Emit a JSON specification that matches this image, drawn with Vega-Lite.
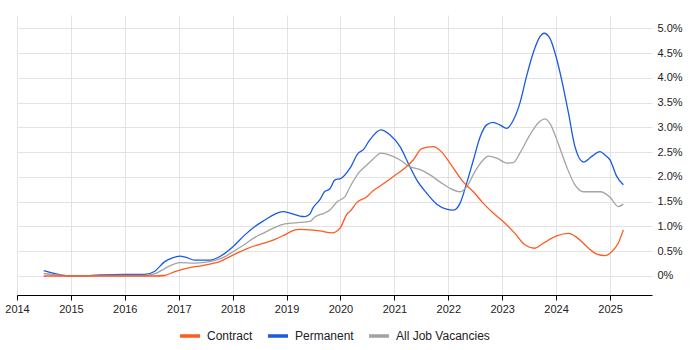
{
  "$schema": "https://vega.github.io/schema/vega-lite/v6.json",
  "width": 635,
  "height": 280,
  "autosize": {"type": "none"},
  "padding": {"left": 17, "top": 15, "right": 48, "bottom": 55},
  "background": "white",
  "config": {
    "view": {"stroke": null},
    "font": "Liberation Sans",
    "axis": {"labelFont": "Liberation Sans", "labelColor": "#222222"},
    "legend": {"labelFont": "Liberation Sans"}
  },
  "datasets": {
    "rows": [
      {"date": "2014-07-01", "series": "Permanent", "value": 0.11},
      {"date": "2015-01-01", "series": "Permanent", "value": 0.0},
      {"date": "2015-03-20", "series": "Permanent", "value": 0.0},
      {"date": "2015-07-15", "series": "Permanent", "value": 0.02},
      {"date": "2016-01-01", "series": "Permanent", "value": 0.03},
      {"date": "2016-05-15", "series": "Permanent", "value": 0.03},
      {"date": "2016-07-20", "series": "Permanent", "value": 0.09},
      {"date": "2016-09-28", "series": "Permanent", "value": 0.29},
      {"date": "2016-11-15", "series": "Permanent", "value": 0.36},
      {"date": "2017-01-10", "series": "Permanent", "value": 0.40},
      {"date": "2017-02-15", "series": "Permanent", "value": 0.38},
      {"date": "2017-04-20", "series": "Permanent", "value": 0.32},
      {"date": "2017-07-30", "series": "Permanent", "value": 0.32},
      {"date": "2017-10-05", "series": "Permanent", "value": 0.39},
      {"date": "2018-01-03", "series": "Permanent", "value": 0.59},
      {"date": "2018-03-25", "series": "Permanent", "value": 0.83},
      {"date": "2018-06-01", "series": "Permanent", "value": 1.00},
      {"date": "2018-08-08", "series": "Permanent", "value": 1.13},
      {"date": "2018-10-15", "series": "Permanent", "value": 1.25},
      {"date": "2018-12-08", "series": "Permanent", "value": 1.30},
      {"date": "2019-01-25", "series": "Permanent", "value": 1.27},
      {"date": "2019-04-01", "series": "Permanent", "value": 1.21},
      {"date": "2019-05-05", "series": "Permanent", "value": 1.20},
      {"date": "2019-06-08", "series": "Permanent", "value": 1.25},
      {"date": "2019-06-28", "series": "Permanent", "value": 1.37},
      {"date": "2019-08-15", "series": "Permanent", "value": 1.54},
      {"date": "2019-09-15", "series": "Permanent", "value": 1.70},
      {"date": "2019-10-22", "series": "Permanent", "value": 1.76},
      {"date": "2019-11-25", "series": "Permanent", "value": 1.94},
      {"date": "2020-01-05", "series": "Permanent", "value": 1.97},
      {"date": "2020-03-05", "series": "Permanent", "value": 2.17},
      {"date": "2020-05-01", "series": "Permanent", "value": 2.48},
      {"date": "2020-06-05", "series": "Permanent", "value": 2.55},
      {"date": "2020-07-10", "series": "Permanent", "value": 2.71},
      {"date": "2020-10-01", "series": "Permanent", "value": 2.95},
      {"date": "2020-12-01", "series": "Permanent", "value": 2.85},
      {"date": "2021-02-08", "series": "Permanent", "value": 2.61},
      {"date": "2021-04-15", "series": "Permanent", "value": 2.21},
      {"date": "2021-06-01", "series": "Permanent", "value": 1.94},
      {"date": "2021-08-08", "series": "Permanent", "value": 1.67},
      {"date": "2021-10-15", "series": "Permanent", "value": 1.45},
      {"date": "2021-12-20", "series": "Permanent", "value": 1.35},
      {"date": "2022-02-05", "series": "Permanent", "value": 1.33},
      {"date": "2022-03-22", "series": "Permanent", "value": 1.47},
      {"date": "2022-05-05", "series": "Permanent", "value": 1.87},
      {"date": "2022-06-20", "series": "Permanent", "value": 2.34},
      {"date": "2022-08-05", "series": "Permanent", "value": 2.81},
      {"date": "2022-09-18", "series": "Permanent", "value": 3.05},
      {"date": "2022-11-01", "series": "Permanent", "value": 3.10},
      {"date": "2022-12-15", "series": "Permanent", "value": 3.05},
      {"date": "2023-02-01", "series": "Permanent", "value": 2.98},
      {"date": "2023-03-18", "series": "Permanent", "value": 3.15},
      {"date": "2023-05-01", "series": "Permanent", "value": 3.49},
      {"date": "2023-06-15", "series": "Permanent", "value": 4.03},
      {"date": "2023-07-30", "series": "Permanent", "value": 4.50},
      {"date": "2023-09-12", "series": "Permanent", "value": 4.82},
      {"date": "2023-10-12", "series": "Permanent", "value": 4.90},
      {"date": "2023-11-20", "series": "Permanent", "value": 4.80},
      {"date": "2023-12-25", "series": "Permanent", "value": 4.50},
      {"date": "2024-02-08", "series": "Permanent", "value": 3.96},
      {"date": "2024-03-25", "series": "Permanent", "value": 3.29},
      {"date": "2024-05-08", "series": "Permanent", "value": 2.61},
      {"date": "2024-07-05", "series": "Permanent", "value": 2.30},
      {"date": "2024-08-28", "series": "Permanent", "value": 2.41},
      {"date": "2024-10-25", "series": "Permanent", "value": 2.51},
      {"date": "2024-11-28", "series": "Permanent", "value": 2.44},
      {"date": "2025-01-01", "series": "Permanent", "value": 2.34},
      {"date": "2025-02-15", "series": "Permanent", "value": 2.01},
      {"date": "2025-04-01", "series": "Permanent", "value": 1.84},

      {"date": "2014-07-01", "series": "All Job Vacancies", "value": 0.05},
      {"date": "2015-01-01", "series": "All Job Vacancies", "value": 0.0},
      {"date": "2015-07-15", "series": "All Job Vacancies", "value": 0.01},
      {"date": "2016-01-01", "series": "All Job Vacancies", "value": 0.01},
      {"date": "2016-05-15", "series": "All Job Vacancies", "value": 0.01},
      {"date": "2016-07-20", "series": "All Job Vacancies", "value": 0.04},
      {"date": "2016-09-28", "series": "All Job Vacancies", "value": 0.15},
      {"date": "2017-01-10", "series": "All Job Vacancies", "value": 0.27},
      {"date": "2017-04-20", "series": "All Job Vacancies", "value": 0.26},
      {"date": "2017-07-30", "series": "All Job Vacancies", "value": 0.29},
      {"date": "2017-11-10", "series": "All Job Vacancies", "value": 0.39},
      {"date": "2018-01-03", "series": "All Job Vacancies", "value": 0.49},
      {"date": "2018-03-25", "series": "All Job Vacancies", "value": 0.64},
      {"date": "2018-06-01", "series": "All Job Vacancies", "value": 0.78},
      {"date": "2018-08-08", "series": "All Job Vacancies", "value": 0.88},
      {"date": "2018-10-15", "series": "All Job Vacancies", "value": 0.98},
      {"date": "2018-12-20", "series": "All Job Vacancies", "value": 1.05},
      {"date": "2019-04-01", "series": "All Job Vacancies", "value": 1.08},
      {"date": "2019-06-08", "series": "All Job Vacancies", "value": 1.10},
      {"date": "2019-07-12", "series": "All Job Vacancies", "value": 1.19},
      {"date": "2019-09-15", "series": "All Job Vacancies", "value": 1.27},
      {"date": "2019-10-22", "series": "All Job Vacancies", "value": 1.33},
      {"date": "2019-12-10", "series": "All Job Vacancies", "value": 1.50},
      {"date": "2020-02-01", "series": "All Job Vacancies", "value": 1.60},
      {"date": "2020-03-05", "series": "All Job Vacancies", "value": 1.79},
      {"date": "2020-05-01", "series": "All Job Vacancies", "value": 2.07},
      {"date": "2020-06-28", "series": "All Job Vacancies", "value": 2.24},
      {"date": "2020-08-10", "series": "All Job Vacancies", "value": 2.36},
      {"date": "2020-10-01", "series": "All Job Vacancies", "value": 2.48},
      {"date": "2020-12-01", "series": "All Job Vacancies", "value": 2.44},
      {"date": "2021-02-08", "series": "All Job Vacancies", "value": 2.34},
      {"date": "2021-04-05", "series": "All Job Vacancies", "value": 2.22},
      {"date": "2021-06-22", "series": "All Job Vacancies", "value": 2.15},
      {"date": "2021-08-30", "series": "All Job Vacancies", "value": 2.04},
      {"date": "2021-11-05", "series": "All Job Vacancies", "value": 1.90},
      {"date": "2022-01-12", "series": "All Job Vacancies", "value": 1.77},
      {"date": "2022-03-22", "series": "All Job Vacancies", "value": 1.70},
      {"date": "2022-05-05", "series": "All Job Vacancies", "value": 1.80},
      {"date": "2022-07-01", "series": "All Job Vacancies", "value": 2.11},
      {"date": "2022-08-25", "series": "All Job Vacancies", "value": 2.34},
      {"date": "2022-09-28", "series": "All Job Vacancies", "value": 2.42},
      {"date": "2022-11-25", "series": "All Job Vacancies", "value": 2.38},
      {"date": "2023-02-01", "series": "All Job Vacancies", "value": 2.28},
      {"date": "2023-03-18", "series": "All Job Vacancies", "value": 2.29},
      {"date": "2023-05-01", "series": "All Job Vacancies", "value": 2.48},
      {"date": "2023-07-08", "series": "All Job Vacancies", "value": 2.85},
      {"date": "2023-09-12", "series": "All Job Vacancies", "value": 3.12},
      {"date": "2023-10-18", "series": "All Job Vacancies", "value": 3.17},
      {"date": "2023-11-20", "series": "All Job Vacancies", "value": 3.08},
      {"date": "2024-01-15", "series": "All Job Vacancies", "value": 2.68},
      {"date": "2024-03-12", "series": "All Job Vacancies", "value": 2.21},
      {"date": "2024-05-08", "series": "All Job Vacancies", "value": 1.84},
      {"date": "2024-07-05", "series": "All Job Vacancies", "value": 1.70},
      {"date": "2024-10-25", "series": "All Job Vacancies", "value": 1.70},
      {"date": "2025-01-01", "series": "All Job Vacancies", "value": 1.59},
      {"date": "2025-02-25", "series": "All Job Vacancies", "value": 1.40},
      {"date": "2025-04-01", "series": "All Job Vacancies", "value": 1.45},

      {"date": "2014-07-01", "series": "Contract", "value": 0.0},
      {"date": "2015-01-01", "series": "Contract", "value": 0.0},
      {"date": "2016-01-01", "series": "Contract", "value": 0.0},
      {"date": "2016-07-20", "series": "Contract", "value": 0.0},
      {"date": "2016-09-28", "series": "Contract", "value": 0.01},
      {"date": "2016-12-05", "series": "Contract", "value": 0.09},
      {"date": "2017-01-10", "series": "Contract", "value": 0.12},
      {"date": "2017-03-18", "series": "Contract", "value": 0.17},
      {"date": "2017-05-25", "series": "Contract", "value": 0.20},
      {"date": "2017-07-30", "series": "Contract", "value": 0.24},
      {"date": "2017-10-05", "series": "Contract", "value": 0.29},
      {"date": "2018-01-03", "series": "Contract", "value": 0.42},
      {"date": "2018-03-25", "series": "Contract", "value": 0.53},
      {"date": "2018-06-01", "series": "Contract", "value": 0.61},
      {"date": "2018-08-08", "series": "Contract", "value": 0.67},
      {"date": "2018-10-15", "series": "Contract", "value": 0.74},
      {"date": "2018-12-20", "series": "Contract", "value": 0.83},
      {"date": "2019-02-28", "series": "Contract", "value": 0.93},
      {"date": "2019-04-01", "series": "Contract", "value": 0.94},
      {"date": "2019-06-08", "series": "Contract", "value": 0.93},
      {"date": "2019-08-15", "series": "Contract", "value": 0.91},
      {"date": "2019-11-05", "series": "Contract", "value": 0.87},
      {"date": "2019-12-28", "series": "Contract", "value": 0.96},
      {"date": "2020-02-20", "series": "Contract", "value": 1.27},
      {"date": "2020-03-05", "series": "Contract", "value": 1.30},
      {"date": "2020-04-20", "series": "Contract", "value": 1.48},
      {"date": "2020-06-28", "series": "Contract", "value": 1.60},
      {"date": "2020-08-10", "series": "Contract", "value": 1.72},
      {"date": "2020-10-08", "series": "Contract", "value": 1.84},
      {"date": "2020-12-25", "series": "Contract", "value": 2.01},
      {"date": "2021-03-13", "series": "Contract", "value": 2.18},
      {"date": "2021-05-08", "series": "Contract", "value": 2.34},
      {"date": "2021-07-05", "series": "Contract", "value": 2.57},
      {"date": "2021-09-20", "series": "Contract", "value": 2.61},
      {"date": "2021-11-15", "series": "Contract", "value": 2.51},
      {"date": "2022-01-12", "series": "Contract", "value": 2.28},
      {"date": "2022-04-12", "series": "Contract", "value": 1.90},
      {"date": "2022-06-20", "series": "Contract", "value": 1.70},
      {"date": "2022-08-25", "series": "Contract", "value": 1.47},
      {"date": "2022-11-01", "series": "Contract", "value": 1.27},
      {"date": "2023-01-08", "series": "Contract", "value": 1.10},
      {"date": "2023-03-28", "series": "Contract", "value": 0.86},
      {"date": "2023-06-03", "series": "Contract", "value": 0.63},
      {"date": "2023-08-10", "series": "Contract", "value": 0.56},
      {"date": "2023-10-06", "series": "Contract", "value": 0.66},
      {"date": "2024-01-05", "series": "Contract", "value": 0.81},
      {"date": "2024-03-25", "series": "Contract", "value": 0.86},
      {"date": "2024-05-20", "series": "Contract", "value": 0.78},
      {"date": "2024-08-08", "series": "Contract", "value": 0.56},
      {"date": "2024-10-03", "series": "Contract", "value": 0.44},
      {"date": "2024-11-28", "series": "Contract", "value": 0.41},
      {"date": "2025-01-12", "series": "Contract", "value": 0.49},
      {"date": "2025-02-25", "series": "Contract", "value": 0.66},
      {"date": "2025-04-01", "series": "Contract", "value": 0.93}
    ]
  },
  "data": {"name": "rows"},
  "mark": {"type": "line", "interpolate": "monotone", "strokeWidth": 1.3},
  "encoding": {
    "x": {
      "field": "date",
      "type": "temporal",
      "scale": {"domain": ["2014-01-01", "2025-10-12"]},
      "axis": {
        "title": null,
        "format": "%Y",
        "tickCount": {"interval": "year", "step": 1},
        "grid": true,
        "gridColor": "#e3e3e3",
        "domainColor": "#000000",
        "tickColor": "#000000",
        "tickSize": 5,
        "labelFontSize": 11,
        "labelPadding": 3,
        "labelFlush": false,
        "labelOverlap": false
      }
    },
    "y": {
      "field": "value",
      "type": "quantitative",
      "scale": {"domain": [-0.384, 5.268], "nice": false, "zero": false},
      "axis": {
        "title": null,
        "orient": "right",
        "values": [0, 0.5, 1, 1.5, 2, 2.5, 3, 3.5, 4, 4.5, 5],
        "labelExpr": "datum.value == 0 ? '0%' : format(datum.value, '.1f') + '%'",
        "grid": true,
        "gridColor": "#e3e3e3",
        "domain": false,
        "ticks": false,
        "labelPadding": 5,
        "labelFontSize": 11
      }
    },
    "color": {
      "field": "series",
      "type": "nominal",
      "sort": ["Contract", "Permanent", "All Job Vacancies"],
      "scale": {
        "domain": ["Contract", "Permanent", "All Job Vacancies"],
        "range": ["#ff5a1f", "#1a5ae0", "#a3a3a3"]
      },
      "legend": {
        "title": null,
        "orient": "none",
        "legendX": 161,
        "legendY": 309,
        "direction": "horizontal",
        "symbolType": "stroke",
        "symbolSize": 400,
        "symbolStrokeWidth": 3.5,
        "labelFontSize": 12,
        "labelColor": "#222222",
        "labelOffset": 5,
        "columnPadding": 8
      }
    }
  }
}
